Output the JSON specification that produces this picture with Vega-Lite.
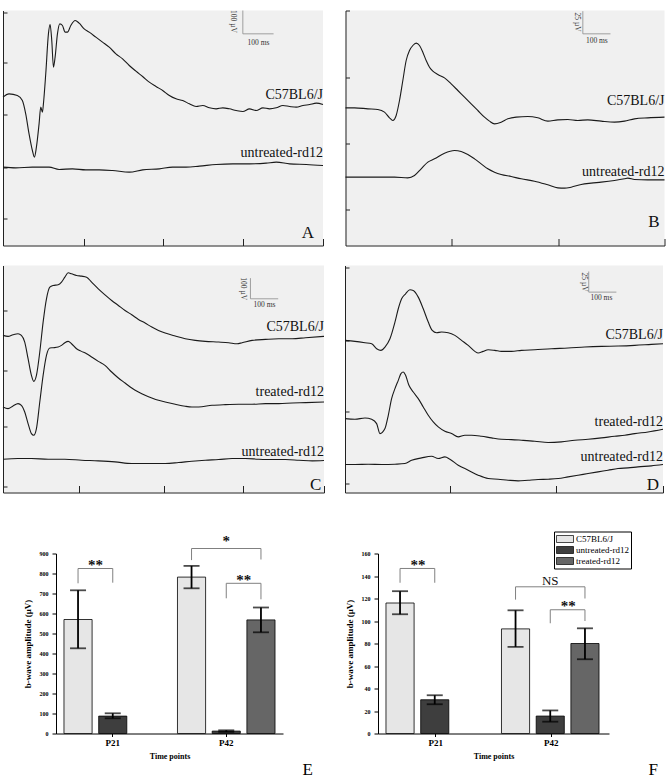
{
"$schema": "https://vega.github.io/schema/vega-lite/v6.json",
"padding": {"left": 0, "top": 9.5, "right": 0, "bottom": 0},
"background": "#ffffff",
"config": {"view": {"stroke": null}, "font": "Liberation Serif", "axis": {"minExtent": 0, "grid": false}},
"resolve": {"scale": {"color": "independent"}, "legend": {"color": "independent"}},
"spacing": 37,
"datasets": {
"A_tr": [
{"trace":"C57BL6/J","t":0,"amp":445},{"trace":"C57BL6/J","t":18,"amp":455},{"trace":"C57BL6/J","t":43,"amp":450},{"trace":"C57BL6/J","t":58,"amp":435},{"trace":"C57BL6/J","t":68,"amp":395},{"trace":"C57BL6/J","t":78,"amp":335},{"trace":"C57BL6/J","t":88,"amp":285},{"trace":"C57BL6/J","t":94,"amp":265},{"trace":"C57BL6/J","t":100,"amp":295},{"trace":"C57BL6/J","t":108,"amp":365},{"trace":"C57BL6/J","t":113,"amp":415},{"trace":"C57BL6/J","t":118,"amp":400},{"trace":"C57BL6/J","t":121,"amp":425},{"trace":"C57BL6/J","t":128,"amp":515},{"trace":"C57BL6/J","t":136,"amp":635},{"trace":"C57BL6/J","t":141,"amp":663},{"trace":"C57BL6/J","t":146,"amp":615},{"trace":"C57BL6/J","t":151,"amp":535},{"trace":"C57BL6/J","t":156,"amp":565},{"trace":"C57BL6/J","t":163,"amp":635},{"trace":"C57BL6/J","t":170,"amp":665},{"trace":"C57BL6/J","t":178,"amp":660},{"trace":"C57BL6/J","t":186,"amp":640},{"trace":"C57BL6/J","t":193,"amp":640},{"trace":"C57BL6/J","t":203,"amp":660},{"trace":"C57BL6/J","t":216,"amp":675},{"trace":"C57BL6/J","t":228,"amp":667},{"trace":"C57BL6/J","t":243,"amp":650},{"trace":"C57BL6/J","t":258,"amp":640},{"trace":"C57BL6/J","t":278,"amp":625},{"trace":"C57BL6/J","t":298,"amp":610},{"trace":"C57BL6/J","t":318,"amp":595},{"trace":"C57BL6/J","t":338,"amp":575},{"trace":"C57BL6/J","t":358,"amp":560},{"trace":"C57BL6/J","t":378,"amp":540},{"trace":"C57BL6/J","t":398,"amp":523},{"trace":"C57BL6/J","t":418,"amp":507},{"trace":"C57BL6/J","t":438,"amp":490},{"trace":"C57BL6/J","t":458,"amp":477},{"trace":"C57BL6/J","t":478,"amp":465},{"trace":"C57BL6/J","t":498,"amp":450},{"trace":"C57BL6/J","t":518,"amp":440},{"trace":"C57BL6/J","t":538,"amp":435},{"trace":"C57BL6/J","t":558,"amp":425},{"trace":"C57BL6/J","t":578,"amp":417},{"trace":"C57BL6/J","t":598,"amp":420},{"trace":"C57BL6/J","t":618,"amp":413},{"trace":"C57BL6/J","t":638,"amp":410},{"trace":"C57BL6/J","t":658,"amp":413},{"trace":"C57BL6/J","t":678,"amp":410},{"trace":"C57BL6/J","t":698,"amp":405},{"trace":"C57BL6/J","t":718,"amp":402},{"trace":"C57BL6/J","t":738,"amp":410},{"trace":"C57BL6/J","t":758,"amp":405},{"trace":"C57BL6/J","t":778,"amp":413},{"trace":"C57BL6/J","t":798,"amp":410},{"trace":"C57BL6/J","t":818,"amp":413},{"trace":"C57BL6/J","t":838,"amp":420},{"trace":"C57BL6/J","t":858,"amp":417},{"trace":"C57BL6/J","t":878,"amp":415},{"trace":"C57BL6/J","t":898,"amp":420},{"trace":"C57BL6/J","t":918,"amp":423},{"trace":"C57BL6/J","t":938,"amp":427},{"trace":"C57BL6/J","t":958,"amp":423},
{"trace":"untreated-rd12","t":0,"amp":235},{"trace":"untreated-rd12","t":38,"amp":233},{"trace":"untreated-rd12","t":88,"amp":235},{"trace":"untreated-rd12","t":138,"amp":235},{"trace":"untreated-rd12","t":168,"amp":228},{"trace":"untreated-rd12","t":208,"amp":230},{"trace":"untreated-rd12","t":248,"amp":227},{"trace":"untreated-rd12","t":288,"amp":227},{"trace":"untreated-rd12","t":328,"amp":225},{"trace":"untreated-rd12","t":378,"amp":220},{"trace":"untreated-rd12","t":418,"amp":227},{"trace":"untreated-rd12","t":468,"amp":230},{"trace":"untreated-rd12","t":508,"amp":235},{"trace":"untreated-rd12","t":548,"amp":235},{"trace":"untreated-rd12","t":588,"amp":238},{"trace":"untreated-rd12","t":638,"amp":243},{"trace":"untreated-rd12","t":688,"amp":245},{"trace":"untreated-rd12","t":738,"amp":245},{"trace":"untreated-rd12","t":788,"amp":247},{"trace":"untreated-rd12","t":818,"amp":250},{"trace":"untreated-rd12","t":858,"amp":245},{"trace":"untreated-rd12","t":908,"amp":243},{"trace":"untreated-rd12","t":958,"amp":240}
],
"B_tr": [
{"trace":"C57BL6/J","t":0,"amp":413},{"trace":"C57BL6/J","t":27,"amp":413},{"trace":"C57BL6/J","t":67,"amp":410},{"trace":"C57BL6/J","t":97,"amp":408},{"trace":"C57BL6/J","t":117,"amp":400},{"trace":"C57BL6/J","t":132,"amp":383},{"trace":"C57BL6/J","t":142,"amp":375},{"trace":"C57BL6/J","t":152,"amp":390},{"trace":"C57BL6/J","t":162,"amp":435},{"trace":"C57BL6/J","t":172,"amp":495},{"trace":"C57BL6/J","t":182,"amp":555},{"trace":"C57BL6/J","t":192,"amp":585},{"trace":"C57BL6/J","t":202,"amp":600},{"trace":"C57BL6/J","t":212,"amp":607},{"trace":"C57BL6/J","t":222,"amp":600},{"trace":"C57BL6/J","t":232,"amp":580},{"trace":"C57BL6/J","t":242,"amp":555},{"trace":"C57BL6/J","t":252,"amp":535},{"trace":"C57BL6/J","t":262,"amp":523},{"trace":"C57BL6/J","t":277,"amp":513},{"trace":"C57BL6/J","t":297,"amp":503},{"trace":"C57BL6/J","t":317,"amp":485},{"trace":"C57BL6/J","t":337,"amp":465},{"trace":"C57BL6/J","t":357,"amp":445},{"trace":"C57BL6/J","t":377,"amp":425},{"trace":"C57BL6/J","t":397,"amp":405},{"trace":"C57BL6/J","t":417,"amp":385},{"trace":"C57BL6/J","t":432,"amp":373},{"trace":"C57BL6/J","t":447,"amp":365},{"trace":"C57BL6/J","t":467,"amp":370},{"trace":"C57BL6/J","t":487,"amp":380},{"trace":"C57BL6/J","t":512,"amp":385},{"trace":"C57BL6/J","t":547,"amp":387},{"trace":"C57BL6/J","t":577,"amp":383},{"trace":"C57BL6/J","t":607,"amp":373},{"trace":"C57BL6/J","t":637,"amp":377},{"trace":"C57BL6/J","t":667,"amp":378},{"trace":"C57BL6/J","t":697,"amp":375},{"trace":"C57BL6/J","t":727,"amp":377},{"trace":"C57BL6/J","t":767,"amp":373},{"trace":"C57BL6/J","t":807,"amp":370},{"trace":"C57BL6/J","t":837,"amp":373},{"trace":"C57BL6/J","t":867,"amp":380},{"trace":"C57BL6/J","t":907,"amp":383},{"trace":"C57BL6/J","t":957,"amp":385},
{"trace":"untreated-rd12","t":0,"amp":205},{"trace":"untreated-rd12","t":47,"amp":205},{"trace":"untreated-rd12","t":97,"amp":205},{"trace":"untreated-rd12","t":147,"amp":205},{"trace":"untreated-rd12","t":187,"amp":203},{"trace":"untreated-rd12","t":207,"amp":210},{"trace":"untreated-rd12","t":227,"amp":230},{"trace":"untreated-rd12","t":247,"amp":250},{"trace":"untreated-rd12","t":267,"amp":260},{"trace":"untreated-rd12","t":297,"amp":277},{"trace":"untreated-rd12","t":327,"amp":285},{"trace":"untreated-rd12","t":347,"amp":282},{"trace":"untreated-rd12","t":367,"amp":273},{"trace":"untreated-rd12","t":387,"amp":260},{"trace":"untreated-rd12","t":407,"amp":245},{"trace":"untreated-rd12","t":427,"amp":230},{"trace":"untreated-rd12","t":447,"amp":220},{"trace":"untreated-rd12","t":467,"amp":213},{"trace":"untreated-rd12","t":497,"amp":207},{"trace":"untreated-rd12","t":527,"amp":200},{"trace":"untreated-rd12","t":567,"amp":193},{"trace":"untreated-rd12","t":607,"amp":182},{"trace":"untreated-rd12","t":637,"amp":173},{"trace":"untreated-rd12","t":657,"amp":172},{"trace":"untreated-rd12","t":677,"amp":175},{"trace":"untreated-rd12","t":707,"amp":183},{"trace":"untreated-rd12","t":737,"amp":187},{"trace":"untreated-rd12","t":767,"amp":190},{"trace":"untreated-rd12","t":807,"amp":195},{"trace":"untreated-rd12","t":837,"amp":200},{"trace":"untreated-rd12","t":847,"amp":202},{"trace":"untreated-rd12","t":867,"amp":198},{"trace":"untreated-rd12","t":907,"amp":197},{"trace":"untreated-rd12","t":957,"amp":197}
],
"C_tr": [
{"trace":"C57BL6/J","t":0,"amp":472},{"trace":"C57BL6/J","t":15,"amp":469},{"trace":"C57BL6/J","t":30,"amp":474},{"trace":"C57BL6/J","t":45,"amp":477},{"trace":"C57BL6/J","t":55,"amp":472},{"trace":"C57BL6/J","t":65,"amp":452},{"trace":"C57BL6/J","t":75,"amp":402},{"trace":"C57BL6/J","t":85,"amp":352},{"trace":"C57BL6/J","t":92,"amp":334},{"trace":"C57BL6/J","t":100,"amp":352},{"trace":"C57BL6/J","t":110,"amp":422},{"trace":"C57BL6/J","t":120,"amp":512},{"trace":"C57BL6/J","t":130,"amp":582},{"trace":"C57BL6/J","t":140,"amp":617},{"trace":"C57BL6/J","t":150,"amp":622},{"trace":"C57BL6/J","t":165,"amp":624},{"trace":"C57BL6/J","t":175,"amp":632},{"trace":"C57BL6/J","t":185,"amp":647},{"trace":"C57BL6/J","t":195,"amp":660},{"trace":"C57BL6/J","t":205,"amp":657},{"trace":"C57BL6/J","t":220,"amp":652},{"trace":"C57BL6/J","t":235,"amp":650},{"trace":"C57BL6/J","t":250,"amp":647},{"trace":"C57BL6/J","t":265,"amp":632},{"trace":"C57BL6/J","t":285,"amp":612},{"trace":"C57BL6/J","t":305,"amp":594},{"trace":"C57BL6/J","t":325,"amp":577},{"trace":"C57BL6/J","t":345,"amp":562},{"trace":"C57BL6/J","t":365,"amp":547},{"trace":"C57BL6/J","t":385,"amp":534},{"trace":"C57BL6/J","t":405,"amp":520},{"trace":"C57BL6/J","t":425,"amp":509},{"trace":"C57BL6/J","t":445,"amp":497},{"trace":"C57BL6/J","t":465,"amp":487},{"trace":"C57BL6/J","t":485,"amp":479},{"trace":"C57BL6/J","t":515,"amp":470},{"trace":"C57BL6/J","t":545,"amp":462},{"trace":"C57BL6/J","t":575,"amp":457},{"trace":"C57BL6/J","t":605,"amp":454},{"trace":"C57BL6/J","t":645,"amp":452},{"trace":"C57BL6/J","t":675,"amp":450},{"trace":"C57BL6/J","t":700,"amp":447},{"trace":"C57BL6/J","t":715,"amp":450},{"trace":"C57BL6/J","t":745,"amp":457},{"trace":"C57BL6/J","t":785,"amp":460},{"trace":"C57BL6/J","t":825,"amp":462},{"trace":"C57BL6/J","t":865,"amp":462},{"trace":"C57BL6/J","t":905,"amp":465},{"trace":"C57BL6/J","t":960,"amp":469},
{"trace":"treated-rd12","t":0,"amp":257},{"trace":"treated-rd12","t":15,"amp":252},{"trace":"treated-rd12","t":30,"amp":260},{"trace":"treated-rd12","t":45,"amp":267},{"trace":"treated-rd12","t":55,"amp":262},{"trace":"treated-rd12","t":65,"amp":242},{"trace":"treated-rd12","t":75,"amp":207},{"trace":"treated-rd12","t":85,"amp":177},{"trace":"treated-rd12","t":92,"amp":172},{"trace":"treated-rd12","t":100,"amp":192},{"trace":"treated-rd12","t":110,"amp":272},{"trace":"treated-rd12","t":120,"amp":352},{"trace":"treated-rd12","t":130,"amp":412},{"trace":"treated-rd12","t":140,"amp":434},{"trace":"treated-rd12","t":150,"amp":435},{"trace":"treated-rd12","t":165,"amp":437},{"trace":"treated-rd12","t":175,"amp":442},{"trace":"treated-rd12","t":185,"amp":450},{"trace":"treated-rd12","t":195,"amp":454},{"trace":"treated-rd12","t":205,"amp":447},{"trace":"treated-rd12","t":220,"amp":432},{"trace":"treated-rd12","t":235,"amp":424},{"trace":"treated-rd12","t":250,"amp":417},{"trace":"treated-rd12","t":265,"amp":407},{"trace":"treated-rd12","t":285,"amp":394},{"trace":"treated-rd12","t":305,"amp":382},{"trace":"treated-rd12","t":325,"amp":362},{"trace":"treated-rd12","t":345,"amp":344},{"trace":"treated-rd12","t":365,"amp":329},{"trace":"treated-rd12","t":385,"amp":314},{"trace":"treated-rd12","t":405,"amp":302},{"trace":"treated-rd12","t":425,"amp":292},{"trace":"treated-rd12","t":445,"amp":284},{"trace":"treated-rd12","t":465,"amp":277},{"trace":"treated-rd12","t":485,"amp":272},{"trace":"treated-rd12","t":515,"amp":265},{"trace":"treated-rd12","t":545,"amp":259},{"trace":"treated-rd12","t":565,"amp":257},{"trace":"treated-rd12","t":585,"amp":257},{"trace":"treated-rd12","t":625,"amp":262},{"trace":"treated-rd12","t":665,"amp":264},{"trace":"treated-rd12","t":705,"amp":265},{"trace":"treated-rd12","t":745,"amp":265},{"trace":"treated-rd12","t":785,"amp":267},{"trace":"treated-rd12","t":825,"amp":267},{"trace":"treated-rd12","t":865,"amp":269},{"trace":"treated-rd12","t":905,"amp":270},{"trace":"treated-rd12","t":960,"amp":272},
{"trace":"untreated-rd12","t":0,"amp":100},{"trace":"untreated-rd12","t":45,"amp":102},{"trace":"untreated-rd12","t":85,"amp":102},{"trace":"untreated-rd12","t":135,"amp":100},{"trace":"untreated-rd12","t":185,"amp":100},{"trace":"untreated-rd12","t":235,"amp":97},{"trace":"untreated-rd12","t":285,"amp":95},{"trace":"untreated-rd12","t":335,"amp":92},{"trace":"untreated-rd12","t":385,"amp":87},{"trace":"untreated-rd12","t":435,"amp":87},{"trace":"untreated-rd12","t":485,"amp":87},{"trace":"untreated-rd12","t":525,"amp":90},{"trace":"untreated-rd12","t":565,"amp":94},{"trace":"untreated-rd12","t":605,"amp":97},{"trace":"untreated-rd12","t":645,"amp":99},{"trace":"untreated-rd12","t":685,"amp":102},{"trace":"untreated-rd12","t":725,"amp":102},{"trace":"untreated-rd12","t":765,"amp":100},{"trace":"untreated-rd12","t":805,"amp":99},{"trace":"untreated-rd12","t":845,"amp":99},{"trace":"untreated-rd12","t":885,"amp":97},{"trace":"untreated-rd12","t":925,"amp":95},{"trace":"untreated-rd12","t":960,"amp":96}
],
"D_tr": [
{"trace":"C57BL6/J","t":0,"amp":457},{"trace":"C57BL6/J","t":30,"amp":454},{"trace":"C57BL6/J","t":60,"amp":450},{"trace":"C57BL6/J","t":80,"amp":447},{"trace":"C57BL6/J","t":95,"amp":432},{"trace":"C57BL6/J","t":108,"amp":427},{"trace":"C57BL6/J","t":120,"amp":437},{"trace":"C57BL6/J","t":135,"amp":462},{"trace":"C57BL6/J","t":150,"amp":512},{"trace":"C57BL6/J","t":160,"amp":552},{"trace":"C57BL6/J","t":170,"amp":582},{"trace":"C57BL6/J","t":182,"amp":597},{"trace":"C57BL6/J","t":195,"amp":609},{"trace":"C57BL6/J","t":205,"amp":607},{"trace":"C57BL6/J","t":220,"amp":587},{"trace":"C57BL6/J","t":235,"amp":552},{"trace":"C57BL6/J","t":250,"amp":512},{"trace":"C57BL6/J","t":262,"amp":487},{"trace":"C57BL6/J","t":275,"amp":480},{"trace":"C57BL6/J","t":290,"amp":482},{"trace":"C57BL6/J","t":310,"amp":480},{"trace":"C57BL6/J","t":330,"amp":472},{"trace":"C57BL6/J","t":350,"amp":457},{"trace":"C57BL6/J","t":370,"amp":442},{"trace":"C57BL6/J","t":390,"amp":424},{"trace":"C57BL6/J","t":400,"amp":419},{"trace":"C57BL6/J","t":415,"amp":424},{"trace":"C57BL6/J","t":430,"amp":429},{"trace":"C57BL6/J","t":450,"amp":427},{"trace":"C57BL6/J","t":470,"amp":424},{"trace":"C57BL6/J","t":500,"amp":424},{"trace":"C57BL6/J","t":530,"amp":427},{"trace":"C57BL6/J","t":570,"amp":429},{"trace":"C57BL6/J","t":620,"amp":432},{"trace":"C57BL6/J","t":670,"amp":434},{"trace":"C57BL6/J","t":720,"amp":437},{"trace":"C57BL6/J","t":770,"amp":439},{"trace":"C57BL6/J","t":820,"amp":440},{"trace":"C57BL6/J","t":870,"amp":442},{"trace":"C57BL6/J","t":920,"amp":445},{"trace":"C57BL6/J","t":955,"amp":447},
{"trace":"treated-rd12","t":0,"amp":222},{"trace":"treated-rd12","t":30,"amp":220},{"trace":"treated-rd12","t":60,"amp":224},{"trace":"treated-rd12","t":80,"amp":220},{"trace":"treated-rd12","t":95,"amp":207},{"trace":"treated-rd12","t":105,"amp":177},{"trace":"treated-rd12","t":120,"amp":192},{"trace":"treated-rd12","t":130,"amp":232},{"trace":"treated-rd12","t":140,"amp":282},{"trace":"treated-rd12","t":150,"amp":312},{"trace":"treated-rd12","t":160,"amp":337},{"trace":"treated-rd12","t":168,"amp":357},{"trace":"treated-rd12","t":175,"amp":362},{"trace":"treated-rd12","t":182,"amp":352},{"trace":"treated-rd12","t":192,"amp":322},{"trace":"treated-rd12","t":205,"amp":302},{"trace":"treated-rd12","t":220,"amp":282},{"trace":"treated-rd12","t":235,"amp":257},{"trace":"treated-rd12","t":250,"amp":232},{"trace":"treated-rd12","t":265,"amp":212},{"trace":"treated-rd12","t":280,"amp":197},{"trace":"treated-rd12","t":300,"amp":184},{"trace":"treated-rd12","t":320,"amp":177},{"trace":"treated-rd12","t":340,"amp":167},{"trace":"treated-rd12","t":360,"amp":172},{"trace":"treated-rd12","t":380,"amp":172},{"trace":"treated-rd12","t":410,"amp":169},{"trace":"treated-rd12","t":440,"amp":164},{"trace":"treated-rd12","t":470,"amp":160},{"trace":"treated-rd12","t":500,"amp":159},{"trace":"treated-rd12","t":530,"amp":157},{"trace":"treated-rd12","t":570,"amp":154},{"trace":"treated-rd12","t":610,"amp":150},{"trace":"treated-rd12","t":650,"amp":152},{"trace":"treated-rd12","t":690,"amp":157},{"trace":"treated-rd12","t":730,"amp":160},{"trace":"treated-rd12","t":770,"amp":164},{"trace":"treated-rd12","t":810,"amp":169},{"trace":"treated-rd12","t":840,"amp":172},{"trace":"treated-rd12","t":870,"amp":177},{"trace":"treated-rd12","t":910,"amp":182},{"trace":"treated-rd12","t":955,"amp":190},
{"trace":"untreated-rd12","t":0,"amp":84},{"trace":"untreated-rd12","t":30,"amp":84},{"trace":"untreated-rd12","t":70,"amp":85},{"trace":"untreated-rd12","t":110,"amp":84},{"trace":"untreated-rd12","t":150,"amp":85},{"trace":"untreated-rd12","t":180,"amp":87},{"trace":"untreated-rd12","t":200,"amp":97},{"trace":"untreated-rd12","t":230,"amp":104},{"trace":"untreated-rd12","t":260,"amp":109},{"trace":"untreated-rd12","t":280,"amp":102},{"trace":"untreated-rd12","t":300,"amp":107},{"trace":"untreated-rd12","t":315,"amp":100},{"trace":"untreated-rd12","t":340,"amp":82},{"trace":"untreated-rd12","t":370,"amp":67},{"trace":"untreated-rd12","t":400,"amp":52},{"trace":"untreated-rd12","t":430,"amp":42},{"trace":"untreated-rd12","t":460,"amp":40},{"trace":"untreated-rd12","t":490,"amp":37},{"trace":"untreated-rd12","t":520,"amp":35},{"trace":"untreated-rd12","t":550,"amp":37},{"trace":"untreated-rd12","t":580,"amp":39},{"trace":"untreated-rd12","t":610,"amp":40},{"trace":"untreated-rd12","t":640,"amp":42},{"trace":"untreated-rd12","t":670,"amp":47},{"trace":"untreated-rd12","t":700,"amp":52},{"trace":"untreated-rd12","t":730,"amp":57},{"trace":"untreated-rd12","t":760,"amp":62},{"trace":"untreated-rd12","t":790,"amp":67},{"trace":"untreated-rd12","t":820,"amp":72},{"trace":"untreated-rd12","t":850,"amp":74},{"trace":"untreated-rd12","t":880,"amp":77},{"trace":"untreated-rd12","t":920,"amp":80},{"trace":"untreated-rd12","t":955,"amp":84}
],
"E_bars": [
{"time":"P21","group":"C57BL6/J","mean":570,"lo":426,"hi":716},
{"time":"P21","group":"untreated-rd12","mean":87,"lo":76,"hi":101},
{"time":"P42","group":"C57BL6/J","mean":782,"lo":726,"hi":838},
{"time":"P42","group":"untreated-rd12","mean":12,"lo":8,"hi":16},
{"time":"P42","group":"treated-rd12","mean":568,"lo":506,"hi":630}
],
"F_bars": [
{"time":"P21","group":"C57BL6/J","mean":116,"lo":106,"hi":126.5},
{"time":"P21","group":"untreated-rd12","mean":30,"lo":26,"hi":34},
{"time":"P42","group":"C57BL6/J","mean":93,"lo":77,"hi":109.5},
{"time":"P42","group":"untreated-rd12","mean":15.5,"lo":10.5,"hi":20.5},
{"time":"P42","group":"treated-rd12","mean":80,"lo":66,"hi":93.5}
],
"E_br": [
{"id":"e1","k":1,"time":"P21","group":"C57BL6/J","y":751},{"id":"e1","k":2,"time":"P21","group":"C57BL6/J","y":825},{"id":"e1","k":3,"time":"P21","group":"untreated-rd12","y":825},{"id":"e1","k":4,"time":"P21","group":"untreated-rd12","y":754},
{"id":"e2","k":1,"time":"P42","group":"C57BL6/J","y":867},{"id":"e2","k":2,"time":"P42","group":"C57BL6/J","y":925},{"id":"e2","k":3,"time":"P42","group":"treated-rd12","y":925},{"id":"e2","k":4,"time":"P42","group":"treated-rd12","y":870},
{"id":"e3","k":1,"time":"P42","group":"untreated-rd12","y":676},{"id":"e3","k":2,"time":"P42","group":"untreated-rd12","y":751},{"id":"e3","k":3,"time":"P42","group":"treated-rd12","y":751},{"id":"e3","k":4,"time":"P42","group":"treated-rd12","y":671}
],
"F_br": [
{"id":"f1","k":1,"time":"P21","group":"C57BL6/J","y":134},{"id":"f1","k":2,"time":"P21","group":"C57BL6/J","y":146.7},{"id":"f1","k":3,"time":"P21","group":"untreated-rd12","y":146.7},{"id":"f1","k":4,"time":"P21","group":"untreated-rd12","y":134},
{"id":"f2","k":1,"time":"P42","group":"C57BL6/J","y":119},{"id":"f2","k":2,"time":"P42","group":"C57BL6/J","y":130.4},{"id":"f2","k":3,"time":"P42","group":"treated-rd12","y":130.4},{"id":"f2","k":4,"time":"P42","group":"treated-rd12","y":120},
{"id":"f3","k":1,"time":"P42","group":"untreated-rd12","y":98},{"id":"f3","k":2,"time":"P42","group":"untreated-rd12","y":110},{"id":"f3","k":3,"time":"P42","group":"treated-rd12","y":110},{"id":"f3","k":4,"time":"P42","group":"treated-rd12","y":100}
],
"E_sig": [
{"time":"P21","group":"C57BL6/J","y":818,"txt":"**","pair":"adj"},
{"time":"P42","group":"untreated-rd12","y":938,"txt":"*","pair":"wide"},
{"time":"P42","group":"untreated-rd12","y":743,"txt":"**","pair":"adj"}
],
"F_sig": [
{"time":"P21","group":"C57BL6/J","y":145,"txt":"**","pair":"adj"},
{"time":"P42","group":"untreated-rd12","y":132,"txt":"NS","pair":"wide"},
{"time":"P42","group":"untreated-rd12","y":109,"txt":"**","pair":"adj"}
]
},
"vconcat": [
{"resolve": {"scale": {"color": "independent"}, "legend": {"color": "independent"}}, "spacing": 19, "vconcat": [
 {"resolve": {"scale": {"color": "independent"}, "legend": {"color": "independent"}}, "spacing": 16.5, "hconcat": [
  {"width": 320, "height": 235, "view": {"fill": "#f0f0f0", "stroke": null}, "layer": [
   {"data": {"name": "A_tr"}, "mark": {"type": "line", "color": "#1a1a1a", "strokeWidth": 1.1, "interpolate": "monotone"},
    "encoding": {"x": {"field": "t", "type": "quantitative", "scale": {"domain": [0, 958], "nice": false, "zero": false}, "axis": {"title": null, "labels": false, "grid": false, "values": [243, 478, 718, 958], "tickSize": -7, "domainColor": "#222", "tickColor": "#222"}},
     "y": {"field": "amp", "type": "quantitative", "scale": {"domain": [0, 705], "nice": false, "zero": false}, "axis": {"title": null, "labels": false, "grid": false, "values": [80, 157, 235, 313, 392, 470, 548, 625, 700], "tickSize": -4, "domainColor": "#222", "tickColor": "#222"}},
     "detail": {"field": "trace"}}},
   {"data": {"values": [{"label": "C57BL6/J", "t": 958, "amp": 453}, {"label": "untreated-rd12", "t": 958, "amp": 277}]}, "mark": {"type": "text", "align": "right", "baseline": "middle", "fontSize": 14, "font": "Liberation Serif", "color": "#111"},
    "encoding": {"x": {"field": "t", "type": "quantitative"}, "y": {"field": "amp", "type": "quantitative"}, "text": {"field": "label"}}},
   {"data": {"values": [{"panel": "A", "t": 913, "amp": 23}]}, "mark": {"type": "text", "align": "center", "baseline": "alphabetic", "fontSize": 17, "font": "Liberation Serif", "color": "#111"},
    "encoding": {"x": {"field": "t", "type": "quantitative"}, "y": {"field": "amp", "type": "quantitative"}, "text": {"field": "panel"}}},
   {"data": {"values": [{"t": 718, "amp": 705, "t2": 718, "amp2": 635}, {"t": 718, "amp": 635, "t2": 810, "amp2": 635}]}, "mark": {"type": "rule", "color": "#8a8a8a", "strokeWidth": 0.8},
    "encoding": {"x": {"field": "t", "type": "quantitative"}, "x2": {"field": "t2"}, "y": {"field": "amp", "type": "quantitative"}, "y2": {"field": "amp2"}}},
   {"data": {"values": [{"txt": "100 ms", "t": 765, "amp": 607}]}, "mark": {"type": "text", "fontSize": 7.5, "font": "Liberation Serif", "color": "#333"},
    "encoding": {"x": {"field": "t", "type": "quantitative"}, "y": {"field": "amp", "type": "quantitative"}, "text": {"field": "txt"}}},
   {"data": {"values": [{"txt": "100 µV", "t": 688, "amp": 672}]}, "mark": {"type": "text", "fontSize": 7.5, "angle": 90, "font": "Liberation Serif", "color": "#333"},
    "encoding": {"x": {"field": "t", "type": "quantitative"}, "y": {"field": "amp", "type": "quantitative"}, "text": {"field": "txt"}}}
  ]},
  {"width": 319, "height": 235, "view": {"fill": "#f0f0f0", "stroke": null}, "layer": [
   {"data": {"name": "B_tr"}, "mark": {"type": "line", "color": "#1a1a1a", "strokeWidth": 1.1, "interpolate": "monotone"},
    "encoding": {"x": {"field": "t", "type": "quantitative", "scale": {"domain": [0, 957], "nice": false, "zero": false}, "axis": {"title": null, "labels": false, "grid": false, "values": [319, 639, 957], "tickSize": -7, "domainColor": "#222", "tickColor": "#222"}},
     "y": {"field": "amp", "type": "quantitative", "scale": {"domain": [0, 705], "nice": false, "zero": false}, "axis": {"title": null, "labels": false, "grid": false, "values": [107, 207, 307, 410, 505, 605, 705], "tickSize": -4, "domainColor": "#222", "tickColor": "#222"}},
     "detail": {"field": "trace"}}},
   {"data": {"values": [{"label": "C57BL6/J", "t": 957, "amp": 435}, {"label": "untreated-rd12", "t": 957, "amp": 220}]}, "mark": {"type": "text", "align": "right", "baseline": "middle", "fontSize": 14, "font": "Liberation Serif", "color": "#111"},
    "encoding": {"x": {"field": "t", "type": "quantitative"}, "y": {"field": "amp", "type": "quantitative"}, "text": {"field": "label"}}},
   {"data": {"values": [{"panel": "B", "t": 925, "amp": 55}]}, "mark": {"type": "text", "align": "center", "baseline": "alphabetic", "fontSize": 17, "font": "Liberation Serif", "color": "#111"},
    "encoding": {"x": {"field": "t", "type": "quantitative"}, "y": {"field": "amp", "type": "quantitative"}, "text": {"field": "panel"}}},
   {"data": {"values": [{"t": 712, "amp": 703, "t2": 712, "amp2": 635}, {"t": 712, "amp": 635, "t2": 795, "amp2": 635}]}, "mark": {"type": "rule", "color": "#8a8a8a", "strokeWidth": 0.8},
    "encoding": {"x": {"field": "t", "type": "quantitative"}, "x2": {"field": "t2"}, "y": {"field": "amp", "type": "quantitative"}, "y2": {"field": "amp2"}}},
   {"data": {"values": [{"txt": "100 ms", "t": 754, "amp": 615}]}, "mark": {"type": "text", "fontSize": 7.5, "font": "Liberation Serif", "color": "#333"},
    "encoding": {"x": {"field": "t", "type": "quantitative"}, "y": {"field": "amp", "type": "quantitative"}, "text": {"field": "txt"}}},
   {"data": {"values": [{"txt": "25 µV", "t": 694, "amp": 670}]}, "mark": {"type": "text", "fontSize": 7.5, "angle": 90, "font": "Liberation Serif", "color": "#333"},
    "encoding": {"x": {"field": "t", "type": "quantitative"}, "y": {"field": "amp", "type": "quantitative"}, "text": {"field": "txt"}}}
  ]}
 ]},
 {"resolve": {"scale": {"color": "independent"}, "legend": {"color": "independent"}}, "spacing": 15, "hconcat": [
  {"width": 321, "height": 227, "view": {"fill": "#f0f0f0", "stroke": null}, "layer": [
   {"data": {"name": "C_tr"}, "mark": {"type": "line", "color": "#1a1a1a", "strokeWidth": 1.1, "interpolate": "monotone"},
    "encoding": {"x": {"field": "t", "type": "quantitative", "scale": {"domain": [0, 960], "nice": false, "zero": false}, "axis": {"title": null, "labels": false, "grid": false, "values": [227, 482, 718, 960], "tickSize": -7, "domainColor": "#222", "tickColor": "#222"}},
     "y": {"field": "amp", "type": "quantitative", "scale": {"domain": [0, 682], "nice": false, "zero": false}, "axis": {"title": null, "labels": false, "grid": false, "values": [17, 62, 107, 152, 197, 242, 282, 327, 367, 412, 457, 502, 547, 592, 637], "tickSize": -4, "domainColor": "#222", "tickColor": "#222"}},
     "detail": {"field": "trace"}}},
   {"data": {"values": [{"label": "C57BL6/J", "t": 960, "amp": 497}, {"label": "treated-rd12", "t": 960, "amp": 302}, {"label": "untreated-rd12", "t": 960, "amp": 122}]}, "mark": {"type": "text", "align": "right", "baseline": "middle", "fontSize": 14, "font": "Liberation Serif", "color": "#111"},
    "encoding": {"x": {"field": "t", "type": "quantitative"}, "y": {"field": "amp", "type": "quantitative"}, "text": {"field": "label"}}},
   {"data": {"values": [{"panel": "C", "t": 935, "amp": 8}]}, "mark": {"type": "text", "align": "center", "baseline": "alphabetic", "fontSize": 17, "font": "Liberation Serif", "color": "#111"},
    "encoding": {"x": {"field": "t", "type": "quantitative"}, "y": {"field": "amp", "type": "quantitative"}, "text": {"field": "panel"}}},
   {"data": {"values": [{"t": 740, "amp": 644, "t2": 740, "amp2": 582}, {"t": 740, "amp": 582, "t2": 823, "amp2": 582}]}, "mark": {"type": "rule", "color": "#8a8a8a", "strokeWidth": 0.8},
    "encoding": {"x": {"field": "t", "type": "quantitative"}, "x2": {"field": "t2"}, "y": {"field": "amp", "type": "quantitative"}, "y2": {"field": "amp2"}}},
   {"data": {"values": [{"txt": "100 ms", "t": 782, "amp": 562}]}, "mark": {"type": "text", "fontSize": 7.5, "font": "Liberation Serif", "color": "#333"},
    "encoding": {"x": {"field": "t", "type": "quantitative"}, "y": {"field": "amp", "type": "quantitative"}, "text": {"field": "txt"}}},
   {"data": {"values": [{"txt": "100 µV", "t": 717, "amp": 612}]}, "mark": {"type": "text", "fontSize": 7.5, "angle": 90, "font": "Liberation Serif", "color": "#333"},
    "encoding": {"x": {"field": "t", "type": "quantitative"}, "y": {"field": "amp", "type": "quantitative"}, "text": {"field": "txt"}}}
  ]},
  {"width": 318, "height": 227, "view": {"fill": "#f0f0f0", "stroke": null}, "layer": [
   {"data": {"name": "D_tr"}, "mark": {"type": "line", "color": "#1a1a1a", "strokeWidth": 1.1, "interpolate": "monotone"},
    "encoding": {"x": {"field": "t", "type": "quantitative", "scale": {"domain": [0, 955], "nice": false, "zero": false}, "axis": {"title": null, "labels": false, "grid": false, "values": [315, 635, 955], "tickSize": -7, "domainColor": "#222", "tickColor": "#222"}},
     "y": {"field": "amp", "type": "quantitative", "scale": {"domain": [0, 682], "nice": false, "zero": false}, "axis": {"title": null, "labels": false, "grid": false, "values": [27, 84, 137, 192, 244, 297, 352, 402, 457, 512, 567, 622, 677], "tickSize": -4, "domainColor": "#222", "tickColor": "#222"}},
     "detail": {"field": "trace"}}},
   {"data": {"values": [{"label": "C57BL6/J", "t": 955, "amp": 472}, {"label": "treated-rd12", "t": 955, "amp": 212}, {"label": "untreated-rd12", "t": 955, "amp": 107}]}, "mark": {"type": "text", "align": "right", "baseline": "middle", "fontSize": 14, "font": "Liberation Serif", "color": "#111"},
    "encoding": {"x": {"field": "t", "type": "quantitative"}, "y": {"field": "amp", "type": "quantitative"}, "text": {"field": "label"}}},
   {"data": {"values": [{"panel": "D", "t": 925, "amp": 8}]}, "mark": {"type": "text", "align": "center", "baseline": "alphabetic", "fontSize": 17, "font": "Liberation Serif", "color": "#111"},
    "encoding": {"x": {"field": "t", "type": "quantitative"}, "y": {"field": "amp", "type": "quantitative"}, "text": {"field": "panel"}}},
   {"data": {"values": [{"t": 732, "amp": 664, "t2": 732, "amp2": 602}, {"t": 732, "amp": 602, "t2": 815, "amp2": 602}]}, "mark": {"type": "rule", "color": "#8a8a8a", "strokeWidth": 0.8},
    "encoding": {"x": {"field": "t", "type": "quantitative"}, "x2": {"field": "t2"}, "y": {"field": "amp", "type": "quantitative"}, "y2": {"field": "amp2"}}},
   {"data": {"values": [{"txt": "100 ms", "t": 770, "amp": 584}]}, "mark": {"type": "text", "fontSize": 7.5, "font": "Liberation Serif", "color": "#333"},
    "encoding": {"x": {"field": "t", "type": "quantitative"}, "y": {"field": "amp", "type": "quantitative"}, "text": {"field": "txt"}}},
   {"data": {"values": [{"txt": "25 µV", "t": 718, "amp": 632}]}, "mark": {"type": "text", "fontSize": 7.5, "angle": 90, "font": "Liberation Serif", "color": "#333"},
    "encoding": {"x": {"field": "t", "type": "quantitative"}, "y": {"field": "amp", "type": "quantitative"}, "text": {"field": "txt"}}}
  ]}
 ]}
]},
{"resolve": {"scale": {"color": "independent"}, "legend": {"color": "independent"}}, "spacing": 0, "hconcat": [
 {"width": 19.5, "height": 10, "data": {"values": []}, "mark": "point"},
 {"resolve": {"scale": {"color": "independent"}, "legend": {"color": "independent"}}, "spacing": 95, "bounds": "flush", "hconcat": [
  {"width": 227, "height": 180, "data": {"name": "E_bars"},
   "title": {"text": "E", "orient": "bottom", "anchor": "end", "frame": "group", "fontSize": 17, "font": "Liberation Serif", "fontWeight": "normal", "color": "#000", "dx": 30, "offset": 1},
   "layer": [
    {"mark": {"type": "bar", "stroke": "#000", "strokeWidth": 0.8},
     "encoding": {
      "x": {"field": "time", "type": "nominal", "scale": {"paddingInner": 0, "paddingOuter": 0}, "axis": {"title": "Time points", "titleFont": "Liberation Serif", "titleFontSize": 8, "titleFontWeight": "bold", "titlePadding": 5, "titleColor": "#000", "labelFont": "Liberation Serif", "labelFontSize": 9, "labelFontWeight": "bold", "labelColor": "#000", "labelAngle": 0, "labelPadding": 2, "tickSize": 3, "domainColor": "#000", "tickColor": "#000", "grid": false}},
      "xOffset": {"field": "group", "type": "nominal", "scale": {"domain": ["C57BL6/J", "untreated-rd12", "treated-rd12"], "paddingInner": 0.19, "paddingOuter": 0.23}},
      "y": {"field": "mean", "type": "quantitative", "scale": {"domain": [0, 900], "nice": false}, "axis": {"title": "b-wave amplitude (µV)", "titleFont": "Liberation Serif", "titleFontSize": 9, "titleFontWeight": "bold", "titlePadding": 7, "titleColor": "#000", "labelFont": "Liberation Serif", "labelFontSize": 6, "labelFontWeight": "bold", "labelColor": "#000", "labelPadding": 4, "labelOverlap": false, "tickSize": 4, "values": [0, 100, 200, 300, 400, 500, 600, 700, 800, 900], "domainColor": "#000", "tickColor": "#000", "grid": false}},
      "color": {"field": "group", "type": "nominal", "scale": {"domain": ["C57BL6/J", "untreated-rd12", "treated-rd12"], "range": ["#e6e6e6", "#3e3e3e", "#666666"]}, "legend": null}}},
    {"mark": {"type": "rule", "color": "#000", "strokeWidth": 1.8},
     "encoding": {"x": {"field": "time", "type": "nominal"}, "xOffset": {"field": "group", "type": "nominal"},
      "y": {"field": "lo", "type": "quantitative", "axis": {"title": "b-wave amplitude (µV)", "titleFont": "Liberation Serif", "titleFontSize": 9, "titleFontWeight": "bold", "titlePadding": 7, "titleColor": "#000", "labelFont": "Liberation Serif", "labelFontSize": 6, "labelFontWeight": "bold", "labelColor": "#000", "labelPadding": 4, "labelOverlap": false, "tickSize": 4, "values": [0, 100, 200, 300, 400, 500, 600, 700, 800, 900], "domainColor": "#000", "tickColor": "#000", "grid": false}}, "y2": {"field": "hi"}}},
    {"mark": {"type": "tick", "color": "#000", "size": 16, "thickness": 1.8},
     "encoding": {"x": {"field": "time", "type": "nominal"}, "xOffset": {"field": "group", "type": "nominal"},
      "y": {"field": "lo", "type": "quantitative", "axis": {"title": "b-wave amplitude (µV)", "titleFont": "Liberation Serif", "titleFontSize": 9, "titleFontWeight": "bold", "titlePadding": 7, "titleColor": "#000", "labelFont": "Liberation Serif", "labelFontSize": 6, "labelFontWeight": "bold", "labelColor": "#000", "labelPadding": 4, "labelOverlap": false, "tickSize": 4, "values": [0, 100, 200, 300, 400, 500, 600, 700, 800, 900], "domainColor": "#000", "tickColor": "#000", "grid": false}}}},
    {"mark": {"type": "tick", "color": "#000", "size": 16, "thickness": 1.8},
     "encoding": {"x": {"field": "time", "type": "nominal"}, "xOffset": {"field": "group", "type": "nominal"},
      "y": {"field": "hi", "type": "quantitative", "axis": {"title": "b-wave amplitude (µV)", "titleFont": "Liberation Serif", "titleFontSize": 9, "titleFontWeight": "bold", "titlePadding": 7, "titleColor": "#000", "labelFont": "Liberation Serif", "labelFontSize": 6, "labelFontWeight": "bold", "labelColor": "#000", "labelPadding": 4, "labelOverlap": false, "tickSize": 4, "values": [0, 100, 200, 300, 400, 500, 600, 700, 800, 900], "domainColor": "#000", "tickColor": "#000", "grid": false}}}},
    {"data": {"name": "E_br"}, "mark": {"type": "line", "color": "#808080", "strokeWidth": 1, "clip": false},
     "encoding": {"x": {"field": "time", "type": "nominal"}, "xOffset": {"field": "group", "type": "nominal"},
      "y": {"field": "y", "type": "quantitative", "axis": {"title": "b-wave amplitude (µV)", "titleFont": "Liberation Serif", "titleFontSize": 9, "titleFontWeight": "bold", "titlePadding": 7, "titleColor": "#000", "labelFont": "Liberation Serif", "labelFontSize": 6, "labelFontWeight": "bold", "labelColor": "#000", "labelPadding": 4, "labelOverlap": false, "tickSize": 4, "values": [0, 100, 200, 300, 400, 500, 600, 700, 800, 900], "domainColor": "#000", "tickColor": "#000", "grid": false}}, "detail": {"field": "id"}, "order": {"field": "k", "type": "quantitative"}}},
    {"data": {"name": "E_sig"}, "transform": [{"filter": "datum.pair === 'adj'"}], "mark": {"type": "text", "dx": 17.5, "fontSize": 15, "fontWeight": "bold", "font": "Liberation Serif", "baseline": "alphabetic", "color": "#111", "clip": false},
     "encoding": {"x": {"field": "time", "type": "nominal"}, "xOffset": {"field": "group", "type": "nominal"},
      "y": {"field": "y", "type": "quantitative", "axis": {"title": "b-wave amplitude (µV)", "titleFont": "Liberation Serif", "titleFontSize": 9, "titleFontWeight": "bold", "titlePadding": 7, "titleColor": "#000", "labelFont": "Liberation Serif", "labelFontSize": 6, "labelFontWeight": "bold", "labelColor": "#000", "labelPadding": 4, "labelOverlap": false, "tickSize": 4, "values": [0, 100, 200, 300, 400, 500, 600, 700, 800, 900], "domainColor": "#000", "tickColor": "#000", "grid": false}}, "text": {"field": "txt"}}},
    {"data": {"name": "E_sig"}, "transform": [{"filter": "datum.pair === 'wide'"}], "mark": {"type": "text", "dx": 0, "fontSize": 15, "fontWeight": "bold", "font": "Liberation Serif", "baseline": "alphabetic", "color": "#111", "clip": false},
     "encoding": {"x": {"field": "time", "type": "nominal"}, "xOffset": {"field": "group", "type": "nominal"},
      "y": {"field": "y", "type": "quantitative", "axis": {"title": "b-wave amplitude (µV)", "titleFont": "Liberation Serif", "titleFontSize": 9, "titleFontWeight": "bold", "titlePadding": 7, "titleColor": "#000", "labelFont": "Liberation Serif", "labelFontSize": 6, "labelFontWeight": "bold", "labelColor": "#000", "labelPadding": 4, "labelOverlap": false, "tickSize": 4, "values": [0, 100, 200, 300, 400, 500, 600, 700, 800, 900], "domainColor": "#000", "tickColor": "#000", "grid": false}}, "text": {"field": "txt"}}}
   ]},
  {"width": 231, "height": 180, "data": {"name": "F_bars"},
   "title": {"text": "F", "orient": "bottom", "anchor": "end", "frame": "group", "fontSize": 17, "font": "Liberation Serif", "fontWeight": "normal", "color": "#000", "dx": 49, "offset": 1},
   "layer": [
    {"mark": {"type": "bar", "stroke": "#000", "strokeWidth": 0.8},
     "encoding": {
      "x": {"field": "time", "type": "nominal", "scale": {"paddingInner": 0, "paddingOuter": 0}, "axis": {"title": "Time points", "titleFont": "Liberation Serif", "titleFontSize": 8, "titleFontWeight": "bold", "titlePadding": 5, "titleColor": "#000", "labelFont": "Liberation Serif", "labelFontSize": 9, "labelFontWeight": "bold", "labelColor": "#000", "labelAngle": 0, "labelPadding": 2, "tickSize": 3, "domainColor": "#000", "tickColor": "#000", "grid": false}},
      "xOffset": {"field": "group", "type": "nominal", "scale": {"domain": ["C57BL6/J", "untreated-rd12", "treated-rd12"], "paddingInner": 0.2, "paddingOuter": 0.2}},
      "y": {"field": "mean", "type": "quantitative", "scale": {"domain": [0, 160], "nice": false}, "axis": {"title": "b-wave amplitude (µV)", "titleFont": "Liberation Serif", "titleFontSize": 9, "titleFontWeight": "bold", "titlePadding": 7, "titleColor": "#000", "labelFont": "Liberation Serif", "labelFontSize": 6, "labelFontWeight": "bold", "labelColor": "#000", "labelPadding": 4, "labelOverlap": false, "tickSize": 4, "values": [0, 20, 40, 60, 80, 100, 120, 140, 160], "domainColor": "#000", "tickColor": "#000", "grid": false}},
      "color": {"field": "group", "type": "nominal", "scale": {"domain": ["C57BL6/J", "untreated-rd12", "treated-rd12"], "range": ["#e6e6e6", "#3e3e3e", "#666666"]},
       "legend": {"title": null, "orient": "top-right", "offset": -22, "padding": 2, "rowPadding": 0, "strokeColor": "#000", "fillColor": "#ffffff", "labelFont": "Liberation Serif", "labelFontSize": 9, "labelColor": "#000", "labelOffset": 9, "symbolType": "M-1,-0.7H2.4V0.7H-1Z", "symbolSize": 100, "symbolStrokeColor": "#000", "symbolStrokeWidth": 0.7, "symbolOpacity": 1}}}},
    {"mark": {"type": "rule", "color": "#000", "strokeWidth": 1.8},
     "encoding": {"x": {"field": "time", "type": "nominal"}, "xOffset": {"field": "group", "type": "nominal"},
      "y": {"field": "lo", "type": "quantitative", "axis": {"title": "b-wave amplitude (µV)", "titleFont": "Liberation Serif", "titleFontSize": 9, "titleFontWeight": "bold", "titlePadding": 7, "titleColor": "#000", "labelFont": "Liberation Serif", "labelFontSize": 6, "labelFontWeight": "bold", "labelColor": "#000", "labelPadding": 4, "labelOverlap": false, "tickSize": 4, "values": [0, 20, 40, 60, 80, 100, 120, 140, 160], "domainColor": "#000", "tickColor": "#000", "grid": false}}, "y2": {"field": "hi"}}},
    {"mark": {"type": "tick", "color": "#000", "size": 16, "thickness": 1.8},
     "encoding": {"x": {"field": "time", "type": "nominal"}, "xOffset": {"field": "group", "type": "nominal"},
      "y": {"field": "lo", "type": "quantitative", "axis": {"title": "b-wave amplitude (µV)", "titleFont": "Liberation Serif", "titleFontSize": 9, "titleFontWeight": "bold", "titlePadding": 7, "titleColor": "#000", "labelFont": "Liberation Serif", "labelFontSize": 6, "labelFontWeight": "bold", "labelColor": "#000", "labelPadding": 4, "labelOverlap": false, "tickSize": 4, "values": [0, 20, 40, 60, 80, 100, 120, 140, 160], "domainColor": "#000", "tickColor": "#000", "grid": false}}}},
    {"mark": {"type": "tick", "color": "#000", "size": 16, "thickness": 1.8},
     "encoding": {"x": {"field": "time", "type": "nominal"}, "xOffset": {"field": "group", "type": "nominal"},
      "y": {"field": "hi", "type": "quantitative", "axis": {"title": "b-wave amplitude (µV)", "titleFont": "Liberation Serif", "titleFontSize": 9, "titleFontWeight": "bold", "titlePadding": 7, "titleColor": "#000", "labelFont": "Liberation Serif", "labelFontSize": 6, "labelFontWeight": "bold", "labelColor": "#000", "labelPadding": 4, "labelOverlap": false, "tickSize": 4, "values": [0, 20, 40, 60, 80, 100, 120, 140, 160], "domainColor": "#000", "tickColor": "#000", "grid": false}}}},
    {"data": {"name": "F_br"}, "mark": {"type": "line", "color": "#808080", "strokeWidth": 1, "clip": false},
     "encoding": {"x": {"field": "time", "type": "nominal"}, "xOffset": {"field": "group", "type": "nominal"},
      "y": {"field": "y", "type": "quantitative", "axis": {"title": "b-wave amplitude (µV)", "titleFont": "Liberation Serif", "titleFontSize": 9, "titleFontWeight": "bold", "titlePadding": 7, "titleColor": "#000", "labelFont": "Liberation Serif", "labelFontSize": 6, "labelFontWeight": "bold", "labelColor": "#000", "labelPadding": 4, "labelOverlap": false, "tickSize": 4, "values": [0, 20, 40, 60, 80, 100, 120, 140, 160], "domainColor": "#000", "tickColor": "#000", "grid": false}}, "detail": {"field": "id"}, "order": {"field": "k", "type": "quantitative"}}},
    {"data": {"name": "F_sig"}, "transform": [{"filter": "datum.pair === 'adj'"}], "mark": {"type": "text", "dx": 18, "fontSize": 15, "fontWeight": "bold", "font": "Liberation Serif", "baseline": "alphabetic", "color": "#111", "clip": false},
     "encoding": {"x": {"field": "time", "type": "nominal"}, "xOffset": {"field": "group", "type": "nominal"},
      "y": {"field": "y", "type": "quantitative", "axis": {"title": "b-wave amplitude (µV)", "titleFont": "Liberation Serif", "titleFontSize": 9, "titleFontWeight": "bold", "titlePadding": 7, "titleColor": "#000", "labelFont": "Liberation Serif", "labelFontSize": 6, "labelFontWeight": "bold", "labelColor": "#000", "labelPadding": 4, "labelOverlap": false, "tickSize": 4, "values": [0, 20, 40, 60, 80, 100, 120, 140, 160], "domainColor": "#000", "tickColor": "#000", "grid": false}}, "text": {"field": "txt"}}},
    {"data": {"name": "F_sig"}, "transform": [{"filter": "datum.pair === 'wide'"}], "mark": {"type": "text", "dx": 0, "fontSize": 13, "font": "Liberation Serif", "baseline": "alphabetic", "color": "#111", "clip": false},
     "encoding": {"x": {"field": "time", "type": "nominal"}, "xOffset": {"field": "group", "type": "nominal"},
      "y": {"field": "y", "type": "quantitative", "axis": {"title": "b-wave amplitude (µV)", "titleFont": "Liberation Serif", "titleFontSize": 9, "titleFontWeight": "bold", "titlePadding": 7, "titleColor": "#000", "labelFont": "Liberation Serif", "labelFontSize": 6, "labelFontWeight": "bold", "labelColor": "#000", "labelPadding": 4, "labelOverlap": false, "tickSize": 4, "values": [0, 20, 40, 60, 80, 100, 120, 140, 160], "domainColor": "#000", "tickColor": "#000", "grid": false}}, "text": {"field": "txt"}}}
   ]}
 ]}
]}
]
}
